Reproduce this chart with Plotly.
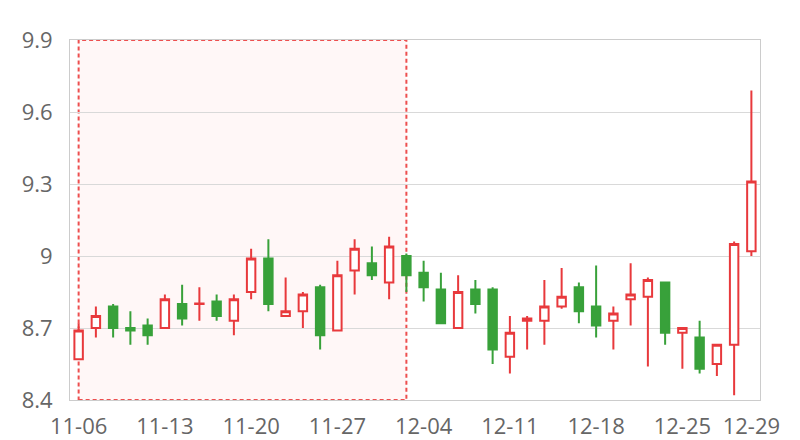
import plotly.graph_objects as go

dates = ["2023-11-06", "2023-11-07", "2023-11-08", "2023-11-09", "2023-11-10",
         "2023-11-13", "2023-11-14", "2023-11-15", "2023-11-16", "2023-11-17",
         "2023-11-20", "2023-11-21", "2023-11-22", "2023-11-23", "2023-11-24",
         "2023-11-27", "2023-11-28", "2023-11-29", "2023-11-30", "2023-12-01",
         "2023-12-04", "2023-12-05", "2023-12-06", "2023-12-07", "2023-12-08",
         "2023-12-11", "2023-12-12", "2023-12-13", "2023-12-14", "2023-12-15",
         "2023-12-18", "2023-12-19", "2023-12-20", "2023-12-21", "2023-12-22",
         "2023-12-25", "2023-12-26", "2023-12-27", "2023-12-28", "2023-12-29"]

open_ = [8.57, 8.70, 8.79, 8.70, 8.71, 8.70, 8.80, 8.80, 8.81, 8.73,
         8.85, 8.99, 8.75, 8.77, 8.87, 8.69, 8.94, 8.97, 8.89, 9.00,
         8.93, 8.86, 8.70, 8.86, 8.86, 8.58, 8.73, 8.73, 8.79, 8.87,
         8.79, 8.73, 8.82, 8.83, 8.89, 8.68, 8.66, 8.55, 8.63, 9.02]
close = [8.69, 8.75, 8.70, 8.69, 8.67, 8.82, 8.74, 8.802, 8.75, 8.82,
         8.99, 8.80, 8.77, 8.84, 8.67, 8.92, 9.03, 8.92, 9.04, 8.92,
         8.87, 8.72, 8.85, 8.80, 8.61, 8.68, 8.74, 8.79, 8.83, 8.77,
         8.71, 8.76, 8.84, 8.90, 8.68, 8.70, 8.53, 8.63, 9.05, 9.31]
high = [8.72, 8.79, 8.80, 8.77, 8.74, 8.84, 8.88, 8.87, 8.84, 8.84,
        9.03, 9.07, 8.91, 8.85, 8.88, 8.98, 9.07, 9.04, 9.08, 9.01,
        8.98, 8.93, 8.92, 8.90, 8.87, 8.75, 8.75, 8.90, 8.95, 8.89,
        8.96, 8.79, 8.97, 8.91, 8.89, 8.70, 8.73, 8.63, 9.06, 9.69]
low = [8.57, 8.66, 8.66, 8.63, 8.63, 8.70, 8.71, 8.73, 8.73, 8.67,
       8.82, 8.77, 8.75, 8.70, 8.61, 8.69, 8.84, 8.90, 8.82, 8.85,
       8.81, 8.72, 8.70, 8.76, 8.55, 8.51, 8.61, 8.63, 8.78, 8.72,
       8.66, 8.61, 8.71, 8.54, 8.63, 8.53, 8.51, 8.50, 8.42, 9.00]

tick_dates = ["2023-11-06", "2023-11-13", "2023-11-20", "2023-11-27", "2023-12-04",
              "2023-12-11", "2023-12-18", "2023-12-25", "2023-12-29"]
tick_text = ["11-06", "11-13", "11-20", "11-27", "12-04", "12-11", "12-18", "12-25", "12-29"]
y_ticks = [8.4, 8.7, 9.0, 9.3, 9.6, 9.9]
y_text = ["8.4", "8.7", "9", "9.3", "9.6", "9.9"]

RED = "#e8393c"
GREEN = "#38a13a"

fig = go.Figure()
fig.add_trace(go.Candlestick(
    x=dates, open=open_, high=high, low=low, close=close,
    increasing=dict(line=dict(color=RED, width=2), fillcolor="#ffffff"),
    decreasing=dict(line=dict(color=GREEN, width=2), fillcolor=GREEN),
    whiskerwidth=0,
    showlegend=False,
))

fig.add_shape(type="rect", xref="x", yref="y",
              x0=dates[0], x1=dates[19], y0=8.4, y1=9.9,
              line=dict(color="rgba(235,60,60,0.9)", width=2, dash="4px,3px"),
              fillcolor="rgba(255,200,200,0.15)", layer="below")

fig.update_layout(
    width=800, height=440,
    margin=dict(l=62, r=48, t=32, b=48),
    paper_bgcolor="white", plot_bgcolor="white",
    font=dict(family="Open Sans", size=22, color="#666666"),
    xaxis=dict(type="category", tickmode="array", tickvals=tick_dates, ticktext=tick_text,
               range=[-0.5, 39.5], showgrid=False, showline=True, linecolor="#cccccc",
               mirror=True, ticks="", rangeslider=dict(visible=False), fixedrange=True,
               ticklabelstandoff=7, automargin=False),
    yaxis=dict(range=[8.4, 9.9], tickmode="array", tickvals=y_ticks, ticktext=y_text,
               showgrid=True, gridcolor="#d9d9d9", showline=True, linecolor="#cccccc",
               mirror=True, zeroline=False, ticks="", ticklabelstandoff=12,
               automargin=False),
)

fig.write_html("out.html")
